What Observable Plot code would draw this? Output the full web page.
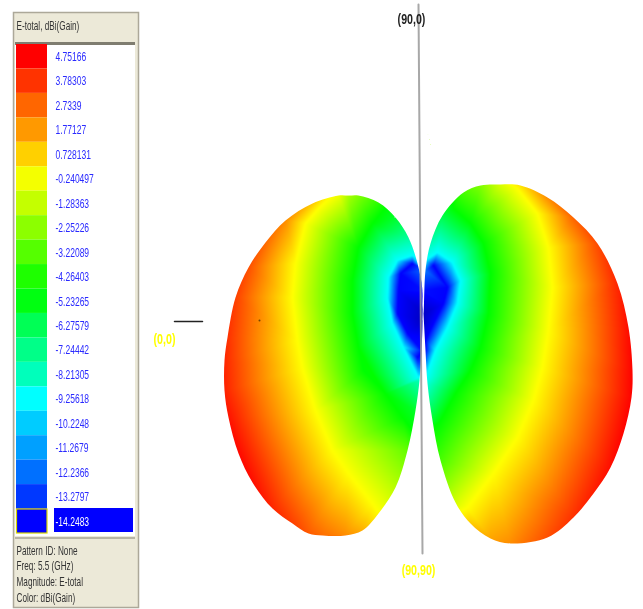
<!DOCTYPE html>
<html><head><meta charset="utf-8">
<script src="https://cdn.jsdelivr.net/npm/d3@7"></script>
<script src="https://cdn.jsdelivr.net/npm/@observablehq/plot@0.6"></script>
<style>html,body{margin:0;padding:0;background:#fff}svg{display:block}svg text{filter:blur(0.35px)}</style>
</head><body><div id="chart"></div>
<script>
const legendValues=["4.75166","3.78303","2.7339","1.77127","0.728131","-0.240497","-1.28363","-2.25226","-3.22089","-4.26403","-5.23265","-6.27579","-7.24442","-8.21305","-9.25618","-10.2248","-11.2679","-12.2366","-13.2797","-14.2483"];
const legendColors=["#ff0000","#ff3300","#ff6600","#ff9900","#ffd000","#f4ff00","#c4ff00","#8cff00","#55ff00","#1eff00","#00ff11","#00ff55","#00ff88","#00ffbb","#00ffff","#00ccff","#00a0ff","#0070ff","#0038ff","#0000ff"];
const footerLines=["Pattern ID: None","Freq: 5.5 (GHz)","Magnitude: E-total","Color: dBi(Gain)"];
const legendTitle="E-total, dBi(Gain)";

// [x, y, dB] read around each lobe's edge, starting at the inner cusp, running counter-clockwise on screen
const leftEdge=[[422,320,-16],[422,290,-14],[417,263,-11],[408,237,-7.5],[395,217,-5.5],[378,202,-4],[358,195,-2.5],[348,195,-1.8],[338,195,-0.5],[312,203,0.8],[285,220,2],[265,242,2.7],[248,267,3.2],[235,297,3.5],[227,337,3.8],[224,360,4],[224,390,4.1],[228,417,4.4],[238,453,4.6],[252,482,4.5],[272,508,4],[292,523,3.5],[308,533,3],[322,535,2.6],[345,535,2],[362,530,1.3],[378,513,-0.2],[395,487,-1.5],[407,450,-3],[415,410,-5.5],[419,380,-8],[421,350,-14]];
const rightEdge=[[423,313,-16],[425,350,-14],[427,383,-8.5],[432,420,-5.5],[440,460,-3.5],[455,502,-1],[470,523,0.8],[490,538,1.5],[510,543,2],[547,537,3.2],[573,517,3.8],[593,493,4.2],[610,467,4.5],[623,433,4.7],[631,397,4.7],[632,370,4.7],[628,327,4.5],[617,283,4],[597,243,3.3],[573,217,2.8],[547,197,2],[520,185,0.3],[500,184,-0.9],[480,185,-2.5],[463,192,-3.5],[442,215,-6],[430,243,-8],[425,270,-12]];
// contour lines read inside each lobe, [level, [[x,y]...]]
const contours=[
 [-0.24,[[328,198],[318,208],[305,223],[295,263],[292,297],[297,340],[302,367],[315,410],[332,450],[348,473],[372,503]]],
 [-4.75,[[385,207],[372,223],[358,247],[352,280],[352,313],[358,347],[363,370],[372,373],[385,393],[402,417],[412,430]]],
 [-9.25,[[412,255],[397,260],[388,277],[387,297],[392,323],[403,347],[418,377]]],
 [-14.25,[[412,263],[400,273],[398,290],[397,313],[407,333],[417,357]]],
 [-0.24,[[517,188],[537,213],[548,247],[552,287],[548,330],[542,367],[533,400],[517,437],[493,473],[467,507]]],
 [-4.75,[[453,208],[470,223],[483,243],[490,273],[488,313],[480,347],[470,370],[455,393],[440,420],[433,427]]],
 [-9.25,[[425,260],[437,252],[452,262],[460,280],[457,303],[447,327],[435,350],[425,377]]],
 [-14.25,[[433,265],[447,287],[443,303],[433,323],[425,340]]]
];
const samples=[...leftEdge,...rightEdge].map(([x,y,v])=>({x,y,v}));
contours.forEach(([v,pts])=>pts.forEach(([x,y])=>samples.push({x,y,v})));

const W=643,H=609;
const ring=a=>[...a,a[0]].map(([x,y])=>({x,y}));
const o={x:-200,y:-200};
const page=[o,{x:W+200,y:-200},{x:W+200,y:H+200},{x:-200,y:H+200},o];
// the cut-out for each lobe is reached through the white gap between the lobes
const gapIn=[{x:421,y:120},{x:421,y:230},{x:421,y:275}];
const gapOut=[...gapIn].reverse();
const mask=[...page,...gapIn,...ring(leftEdge),...gapOut,o,...gapIn,...ring(rightEdge),...gapOut,o];

const rowH=24.45,rowTop=44;
const rows=legendValues.map((label,i)=>({label,i,y1:rowTop+i*rowH,y2:rowTop+(i+1)*rowH,y:56+i*24.47}));
const font='"Liberation Sans",Arial,sans-serif';
const box=(x1,y1,x2,y2,opt)=>Plot.rect([0],{x1:()=>x1,y1:()=>y1,x2:()=>x2,y2:()=>y2,...opt});

const chart=Plot.plot({
 width:W,height:H,margin:0,
 x:{domain:[0,W],range:[0,W],axis:null},
 y:{domain:[0,H],range:[0,H],axis:null},
 color:{type:"linear",domain:[-18,-14.25,-9.25,-4.75,-0.24,4.75],range:["#000080","#0000ff","#00ffff","#00ff00","#ffff00","#ff0000"],clamp:true},
 style:{background:"#fff"},
 marks:[
  Plot.raster(samples,{x:"x",y:"y",fill:"v",interpolate:"barycentric",pixelSize:1}),
  Plot.line(mask,{x:"x",y:"y",fill:"#fff",stroke:"none",curve:"catmull-rom"}),
  Plot.dot([0],{x:()=>259,y:()=>320,r:1,fill:"#774400"}),
  Plot.line([{x:418,y:4},{x:422,y:553}],{x:"x",y:"y",stroke:"#999",strokeWidth:2,strokeOpacity:0.85}),
  Plot.line([{x:174,y:321},{x:202,y:321}],{x:"x",y:"y",stroke:"#222",strokeWidth:1.5}),
  Plot.text(["(90,0)"],{x:()=>411,y:()=>19,text:d=>d,fill:"#222",fontSize:14,fontFamily:font,fontWeight:"bold"}),
  Plot.text(["(0,0)"],{x:()=>164,y:()=>339,text:d=>d,fill:"#ffff00",fontSize:14,fontFamily:font,fontWeight:"bold"}),
  Plot.text(["(90,90)"],{x:()=>418,y:()=>570,text:d=>d,fill:"#ffff00",fontSize:14,fontFamily:font,fontWeight:"bold"}),
  box(13.5,12.5,138.5,607.5,{fill:"#ece9d8",stroke:"#aca899",strokeWidth:1.5}),
  box(15,42,135,45,{fill:"#7f7d70"}),
  box(15,45,135,536,{fill:"#fff"}),
  box(15,537,135,539,{fill:"#b8b5a6"}),
  ...rows.map(r=>Plot.rect([r],{x1:()=>16,x2:()=>47,y1:"y1",y2:"y2",fill:legendColors[r.i]})),
  box(16.5,509,47,533,{fill:"none",stroke:"#d8d800",strokeWidth:1.2}),
  box(54,508,133,532,{fill:"#0000ff"}),
  Plot.text(rows,{x:()=>55,y:"y",text:"label",textAnchor:"start",fill:r=>r.i===19?"#fff":"#2a2aff",fontSize:13.5,fontFamily:font}),
  Plot.text([legendTitle],{x:()=>16,y:()=>25,text:d=>d,textAnchor:"start",fill:"#333",fontSize:13,fontFamily:font}),
  Plot.text(footerLines,{x:()=>16,y:(d,i)=>[550,565,581,597][i],text:d=>d,textAnchor:"start",fill:"#333",fontSize:13,fontFamily:font})
 ]
});
document.getElementById("chart").append(chart);
// the reference's screen font is tall and narrow
chart.querySelectorAll("text").forEach(t=>{
 const bold=getComputedStyle(t).fontWeight>=600||t.parentNode.getAttribute("font-weight")==="bold";
 t.setAttribute("textLength",(t.getComputedTextLength()*(bold?0.76:0.63)).toFixed(1));
 t.setAttribute("lengthAdjust","spacingAndGlyphs");
});
</script></body></html>
